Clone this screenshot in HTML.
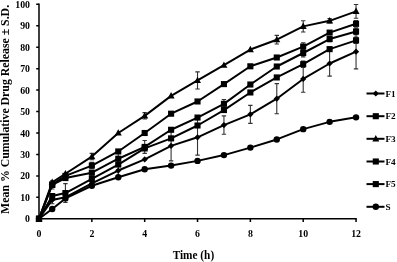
<!DOCTYPE html>
<html><head><meta charset="utf-8"><style>
html,body{margin:0;padding:0;background:#fff;}
body{width:397px;height:262px;overflow:hidden;font-family:"Liberation Serif",serif;}
svg{display:block;filter:grayscale(1);}
</style></head><body>
<svg width="397" height="262" viewBox="0 0 397 262"><path d="M39.00 3.6V219.55M38.25 218.80H356.79" stroke="#000" stroke-width="1.5" fill="none"/><path d="M36.20 218.80H39.00M36.20 197.35H39.00M36.20 175.90H39.00M36.20 154.45H39.00M36.20 133.00H39.00M36.20 111.55H39.00M36.20 90.10H39.00M36.20 68.65H39.00M36.20 47.20H39.00M36.20 25.75H39.00M36.20 4.30H39.00M39.00 218.80V222.00M91.84 218.80V222.00M144.68 218.80V222.00M197.52 218.80V222.00M250.36 218.80V222.00M303.20 218.80V222.00M356.04 218.80V222.00" stroke="#000" stroke-width="1.5" fill="none"/><path d="M91.84 153.38V159.81M89.64 153.38H94.04M89.64 159.81H94.04M144.68 112.62V119.06M142.48 112.62H146.88M142.48 119.06H146.88M197.52 71.87V89.03M195.32 71.87H199.72M195.32 89.03H199.72M276.78 35.40V43.98M274.58 35.40H278.98M274.58 43.98H278.98M303.20 20.82V31.97M301.00 20.82H305.40M301.00 31.97H305.40M329.62 18.67V22.96M327.42 18.67H331.82M327.42 22.96H331.82M356.04 4.51V18.24M353.84 4.51H358.24M353.84 18.24H358.24M91.84 162.39V168.82M89.64 162.39H94.04M89.64 168.82H94.04M303.20 42.70V50.42M301.00 42.70H305.40M301.00 50.42H305.40M356.04 20.60V27.04M353.84 20.60H358.24M353.84 27.04H358.24M52.21 180.83V188.98M50.01 180.83H54.41M50.01 188.98H54.41M118.26 153.38V164.10M116.06 153.38H120.46M116.06 164.10H120.46M144.68 140.51V153.38M142.48 140.51H146.88M142.48 153.38H146.88M223.94 99.54V108.12M221.74 99.54H226.14M221.74 108.12H226.14M303.20 49.13V56.85M301.00 49.13H305.40M301.00 56.85H305.40M329.62 36.48V41.62M327.42 36.48H331.82M327.42 41.62H331.82M356.04 28.32V34.76M353.84 28.32H358.24M353.84 34.76H358.24M65.42 183.62V202.50M63.22 183.62H67.62M63.22 202.50H67.62M91.84 175.69V182.12M89.64 175.69H94.04M89.64 182.12H94.04M118.26 159.17V169.89M116.06 159.17H120.46M116.06 169.89H120.46M303.20 60.93V67.36M301.00 60.93H305.40M301.00 67.36H305.40M356.04 37.12V43.55M353.84 37.12H358.24M353.84 43.55H358.24M52.21 196.06V203.78M50.01 196.06H54.41M50.01 203.78H54.41M118.26 165.18V175.90M116.06 165.18H120.46M116.06 175.90H120.46M171.10 130.86V160.89M168.90 130.86H173.30M168.90 160.89H173.30M197.52 119.49V155.09M195.32 119.49H199.72M195.32 155.09H199.72M223.94 115.84V134.29M221.74 115.84H226.14M221.74 134.29H226.14M250.36 105.33V123.35M248.16 105.33H252.56M248.16 123.35H252.56M276.78 83.67V113.70M274.58 83.67H278.98M274.58 113.70H278.98M303.20 65.65V92.25M301.00 65.65H305.40M301.00 92.25H305.40M329.62 50.85V76.16M327.42 50.85H331.82M327.42 76.16H331.82M356.04 34.54V68.86M353.84 34.54H358.24M353.84 68.86H358.24" stroke="#333" stroke-width="1.1" fill="none"/><polyline points="39.00,218.80 52.21,182.34 65.42,173.75 91.84,156.60 118.26,133.00 144.68,115.84 171.10,95.89 197.52,80.45 223.94,65.22 250.36,49.56 276.78,39.69 303.20,26.39 329.62,20.82 356.04,11.38" fill="none" stroke="#000" stroke-width="2.0" stroke-linejoin="round"/><polyline points="39.00,218.80 52.21,184.48 65.42,175.90 91.84,165.60 118.26,151.45 144.68,133.00 171.10,113.70 197.52,101.47 223.94,84.09 250.36,66.29 276.78,57.50 303.20,46.56 329.62,32.61 356.04,23.82" fill="none" stroke="#000" stroke-width="2.0" stroke-linejoin="round"/><polyline points="39.00,218.80 52.21,184.91 65.42,178.05 91.84,172.68 118.26,158.74 144.68,146.94 171.10,129.78 197.52,117.56 223.94,103.83 250.36,84.52 276.78,66.51 303.20,52.99 329.62,39.05 356.04,31.54" fill="none" stroke="#000" stroke-width="2.0" stroke-linejoin="round"/><polyline points="39.00,218.80 52.21,196.06 65.42,193.06 91.84,178.90 118.26,164.53 144.68,148.44 171.10,138.36 197.52,125.49 223.94,110.05 250.36,92.46 276.78,77.44 303.20,64.15 329.62,49.13 356.04,40.34" fill="none" stroke="#000" stroke-width="2.0" stroke-linejoin="round"/><polyline points="39.00,218.80 52.21,199.92 65.42,197.35 91.84,183.41 118.26,170.54 144.68,159.38 171.10,145.87 197.52,137.29 223.94,125.06 250.36,114.34 276.78,98.68 303.20,78.95 329.62,63.50 356.04,51.70" fill="none" stroke="#000" stroke-width="2.0" stroke-linejoin="round"/><polyline points="39.00,218.80 52.21,208.93 65.42,198.42 91.84,185.77 118.26,177.19 144.68,169.25 171.10,165.60 197.52,160.89 223.94,155.09 250.36,147.59 276.78,139.44 303.20,129.14 329.62,121.85 356.04,117.34" fill="none" stroke="#000" stroke-width="2.0" stroke-linejoin="round"/><g fill="#000"><path d="M39.00 215.00L42.50 221.40L35.50 221.40Z"/><path d="M52.21 178.53L55.71 184.94L48.71 184.94Z"/><path d="M65.42 169.95L68.92 176.35L61.92 176.35Z"/><path d="M91.84 152.80L95.34 159.20L88.34 159.20Z"/><path d="M118.26 129.20L121.76 135.60L114.76 135.60Z"/><path d="M144.68 112.04L148.18 118.44L141.18 118.44Z"/><path d="M171.10 92.09L174.60 98.49L167.60 98.49Z"/><path d="M197.52 76.65L201.02 83.05L194.02 83.05Z"/><path d="M223.94 61.42L227.44 67.82L220.44 67.82Z"/><path d="M250.36 45.76L253.86 52.16L246.86 52.16Z"/><path d="M276.78 35.89L280.28 42.29L273.28 42.29Z"/><path d="M303.20 22.59L306.70 28.99L299.70 28.99Z"/><path d="M329.62 17.02L333.12 23.42L326.12 23.42Z"/><path d="M356.04 7.58L359.54 13.98L352.54 13.98Z"/></g><g fill="#000"><rect x="35.95" y="215.75" width="6.10" height="6.10"/><rect x="49.16" y="181.43" width="6.10" height="6.10"/><rect x="62.37" y="172.85" width="6.10" height="6.10"/><rect x="88.79" y="162.55" width="6.10" height="6.10"/><rect x="115.21" y="148.40" width="6.10" height="6.10"/><rect x="141.63" y="129.95" width="6.10" height="6.10"/><rect x="168.05" y="110.65" width="6.10" height="6.10"/><rect x="194.47" y="98.42" width="6.10" height="6.10"/><rect x="220.89" y="81.04" width="6.10" height="6.10"/><rect x="247.31" y="63.24" width="6.10" height="6.10"/><rect x="273.73" y="54.45" width="6.10" height="6.10"/><rect x="300.15" y="43.51" width="6.10" height="6.10"/><rect x="326.57" y="29.56" width="6.10" height="6.10"/><rect x="352.99" y="20.77" width="6.10" height="6.10"/></g><g fill="#000"><rect x="35.95" y="215.75" width="6.10" height="6.10"/><rect x="49.16" y="181.86" width="6.10" height="6.10"/><rect x="62.37" y="175.00" width="6.10" height="6.10"/><rect x="88.79" y="169.63" width="6.10" height="6.10"/><rect x="115.21" y="155.69" width="6.10" height="6.10"/><rect x="141.63" y="143.89" width="6.10" height="6.10"/><rect x="168.05" y="126.73" width="6.10" height="6.10"/><rect x="194.47" y="114.51" width="6.10" height="6.10"/><rect x="220.89" y="100.78" width="6.10" height="6.10"/><rect x="247.31" y="81.47" width="6.10" height="6.10"/><rect x="273.73" y="63.46" width="6.10" height="6.10"/><rect x="300.15" y="49.94" width="6.10" height="6.10"/><rect x="326.57" y="36.00" width="6.10" height="6.10"/><rect x="352.99" y="28.49" width="6.10" height="6.10"/></g><g fill="#000"><rect x="35.95" y="215.75" width="6.10" height="6.10"/><rect x="49.16" y="193.01" width="6.10" height="6.10"/><rect x="62.37" y="190.01" width="6.10" height="6.10"/><rect x="88.79" y="175.85" width="6.10" height="6.10"/><rect x="115.21" y="161.48" width="6.10" height="6.10"/><rect x="141.63" y="145.39" width="6.10" height="6.10"/><rect x="168.05" y="135.31" width="6.10" height="6.10"/><rect x="194.47" y="122.44" width="6.10" height="6.10"/><rect x="220.89" y="107.00" width="6.10" height="6.10"/><rect x="247.31" y="89.41" width="6.10" height="6.10"/><rect x="273.73" y="74.39" width="6.10" height="6.10"/><rect x="300.15" y="61.10" width="6.10" height="6.10"/><rect x="326.57" y="46.08" width="6.10" height="6.10"/><rect x="352.99" y="37.29" width="6.10" height="6.10"/></g><g fill="#000"><path d="M39.00 215.70L42.10 218.80L39.00 221.90L35.90 218.80Z"/><path d="M52.21 196.82L55.31 199.92L52.21 203.02L49.11 199.92Z"/><path d="M65.42 194.25L68.52 197.35L65.42 200.45L62.32 197.35Z"/><path d="M91.84 180.31L94.94 183.41L91.84 186.51L88.74 183.41Z"/><path d="M118.26 167.44L121.36 170.54L118.26 173.64L115.16 170.54Z"/><path d="M144.68 156.28L147.78 159.38L144.68 162.48L141.58 159.38Z"/><path d="M171.10 142.77L174.20 145.87L171.10 148.97L168.00 145.87Z"/><path d="M197.52 134.19L200.62 137.29L197.52 140.39L194.42 137.29Z"/><path d="M223.94 121.96L227.04 125.06L223.94 128.16L220.84 125.06Z"/><path d="M250.36 111.24L253.46 114.34L250.36 117.44L247.26 114.34Z"/><path d="M276.78 95.58L279.88 98.68L276.78 101.78L273.68 98.68Z"/><path d="M303.20 75.85L306.30 78.95L303.20 82.05L300.10 78.95Z"/><path d="M329.62 60.40L332.72 63.50L329.62 66.60L326.52 63.50Z"/><path d="M356.04 48.60L359.14 51.70L356.04 54.80L352.94 51.70Z"/></g><g fill="#000"><circle cx="39.00" cy="218.80" r="3.20"/><circle cx="52.21" cy="208.93" r="3.20"/><circle cx="65.42" cy="198.42" r="3.20"/><circle cx="91.84" cy="185.77" r="3.20"/><circle cx="118.26" cy="177.19" r="3.20"/><circle cx="144.68" cy="169.25" r="3.20"/><circle cx="171.10" cy="165.60" r="3.20"/><circle cx="197.52" cy="160.89" r="3.20"/><circle cx="223.94" cy="155.09" r="3.20"/><circle cx="250.36" cy="147.59" r="3.20"/><circle cx="276.78" cy="139.44" r="3.20"/><circle cx="303.20" cy="129.14" r="3.20"/><circle cx="329.62" cy="121.85" r="3.20"/><circle cx="356.04" cy="117.34" r="3.20"/></g><g font-family="Liberation Serif" font-weight="bold" font-size="9.8"><text x="30" y="222.30" text-anchor="end">0</text><text x="30" y="200.85" text-anchor="end">10</text><text x="30" y="179.40" text-anchor="end">20</text><text x="30" y="157.95" text-anchor="end">30</text><text x="30" y="136.50" text-anchor="end">40</text><text x="30" y="115.05" text-anchor="end">50</text><text x="30" y="93.60" text-anchor="end">60</text><text x="30" y="72.15" text-anchor="end">70</text><text x="30" y="50.70" text-anchor="end">80</text><text x="30" y="29.25" text-anchor="end">90</text><text x="30" y="7.80" text-anchor="end">100</text><text x="39.00" y="237" text-anchor="middle">0</text><text x="91.84" y="237" text-anchor="middle">2</text><text x="144.68" y="237" text-anchor="middle">4</text><text x="197.52" y="237" text-anchor="middle">6</text><text x="250.36" y="237" text-anchor="middle">8</text><text x="303.20" y="237" text-anchor="middle">10</text><text x="356.04" y="237" text-anchor="middle">12</text></g><text transform="translate(193.4,258.5) scale(1,1.1)" text-anchor="middle" font-family="Liberation Serif" font-weight="bold" font-size="11.3">Time (h)</text><text transform="translate(9.2,109.4) rotate(-90)" text-anchor="middle" font-family="Liberation Serif" font-weight="bold" font-size="11.8">Mean % Cumulative Drug Release &#177; S.D.</text><path d="M366.5 93.50H384.5" stroke="#000" stroke-width="2.0"/><g fill="#000"><path d="M375.80 90.40L378.90 93.50L375.80 96.60L372.70 93.50Z"/></g><text x="385.4" y="96.60" font-family="Liberation Serif" font-weight="bold" font-size="9.2">F1</text><path d="M366.5 116.20H384.5" stroke="#000" stroke-width="2.0"/><g fill="#000"><rect x="372.75" y="113.15" width="6.10" height="6.10"/></g><text x="385.4" y="119.30" font-family="Liberation Serif" font-weight="bold" font-size="9.2">F2</text><path d="M366.5 138.80H384.5" stroke="#000" stroke-width="2.0"/><g fill="#000"><path d="M375.80 135.00L379.30 141.40L372.30 141.40Z"/></g><text x="385.4" y="141.90" font-family="Liberation Serif" font-weight="bold" font-size="9.2">F3</text><path d="M366.5 161.50H384.5" stroke="#000" stroke-width="2.0"/><g fill="#000"><rect x="372.75" y="158.45" width="6.10" height="6.10"/></g><text x="385.4" y="164.60" font-family="Liberation Serif" font-weight="bold" font-size="9.2">F4</text><path d="M366.5 184.10H384.5" stroke="#000" stroke-width="2.0"/><g fill="#000"><rect x="372.75" y="181.05" width="6.10" height="6.10"/></g><text x="385.4" y="187.20" font-family="Liberation Serif" font-weight="bold" font-size="9.2">F5</text><path d="M366.5 206.80H384.5" stroke="#000" stroke-width="2.0"/><g fill="#000"><circle cx="375.80" cy="206.80" r="3.20"/></g><text x="385.4" y="209.90" font-family="Liberation Serif" font-weight="bold" font-size="9.2">S</text></svg>
</body></html>
